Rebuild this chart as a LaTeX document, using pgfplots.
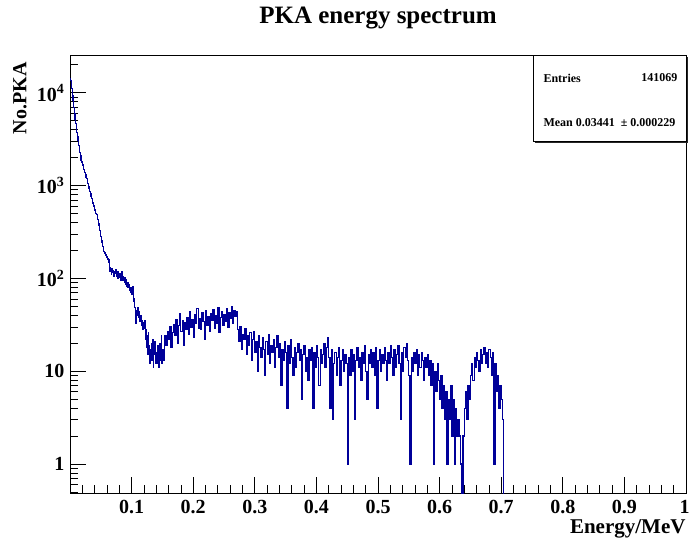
\documentclass[border=0pt]{standalone}
\usepackage{pgfplots}
\pgfplotsset{compat=1.18}
\usepackage{pgfplotstable}
\usepackage{fontspec}
\setmainfont{Liberation Serif}
\definecolor{rootblue}{RGB}{0,0,153}
% bins of 0.001 MeV from 0 to 0.150
\pgfplotstableread[row sep=\\]{
y\\
14100\\ 13500\\ 12800\\ 11100\\ 9400\\ 8200\\ 6900\\ 5900\\ 5200\\ 4700\\
4200\\ 3750\\ 3350\\ 3050\\ 2700\\ 2520\\ 2260\\ 2080\\ 1850\\ 1790\\
1690\\ 1640\\ 1500\\ 1460\\ 1370\\ 1300\\ 1220\\ 1180\\ 1090\\ 1060\\
970\\ 940\\ 860\\ 820\\ 770\\ 730\\ 680\\ 650\\ 610\\ 595\\
545\\ 530\\ 495\\ 485\\ 440\\ 430\\ 385\\ 370\\ 325\\ 305\\
285\\ 255\\ 245\\ 220\\ 212\\ 196\\ 188\\ 178\\ 182\\ 170\\
168\\ 162\\ 150\\ 158\\ 131\\ 118\\ 124\\ 109\\ 127\\ 115\\
121\\ 104\\ 118\\ 112\\ 125\\ 106\\ 116\\ 99\\ 119\\ 108\\
102\\ 113\\ 96\\ 109\\ 118\\ 94\\ 105\\ 99\\ 91\\ 103\\
86\\ 97\\ 82\\ 90\\ 79\\ 85\\ 74\\ 77\\ 70\\ 80\\
68\\ 72\\ 81\\ 56\\ 60\\ 49\\ 42\\ 33\\ 45\\ 40\\
48\\ 38\\ 44\\ 34\\ 36\\ 40\\ 31\\ 35\\ 28\\ 33\\
29\\ 35\\ 22\\ 28\\ 18\\ 24\\ 15\\ 26\\ 19\\ 14\\
12\\ 17\\ 20\\ 13\\ 22\\ 11\\ 18\\ 15\\ 21\\ 12\\
16\\ 12\\ 19\\ 14\\ 11\\ 20\\ 13\\ 17\\ 24\\ 12\\
17\\
}\pkalow
% bins of 0.002 MeV from 0.150 to 0.704
\pgfplotstableread[row sep=\\]{
y\\
17\\ 13\\ 24\\ 19\\ 27\\ 22\\ 30\\ 18\\ 26\\ 32\\
24\\ 36\\ 20\\ 31\\ 42\\ 27\\ 35\\ 19\\ 33\\ 28\\
38\\ 25\\ 44\\ 30\\ 36\\ 23\\ 41\\ 33\\ 47\\ 29\\
37\\ 28\\ 43\\ 34\\ 22\\ 45\\ 31\\ 39\\ 27\\ 42\\
35\\ 46\\ 29\\ 40\\ 33\\ 48\\ 26\\ 38\\ 44\\ 31\\
41\\ 34\\ 47\\ 30\\ 43\\ 37\\ 50\\ 33\\ 45\\ 39\\
44\\ 28\\ 21\\ 30\\ 17\\ 25\\ 22\\ 29\\ 15\\ 24\\
19\\ 26\\ 13\\ 22\\ 27\\ 16\\ 21\\ 10\\ 24\\ 18\\
14\\ 23\\ 17\\ 9\\ 21\\ 15\\ 25\\ 12\\ 19\\ 16\\
22\\ 11\\ 18\\ 24\\ 14\\ 20\\ 7\\ 17\\ 13\\ 21\\
16\\ 4\\ 19\\ 12\\ 22\\ 14\\ 9\\ 18\\ 11\\ 16\\
20\\ 13\\ 17\\ 5\\ 15\\ 19\\ 10\\ 14\\ 8\\ 17\\
13\\ 18\\ 4\\ 16\\ 11\\ 19\\ 14\\ 7\\ 17\\ 12\\
15\\ 20\\ 11\\ 18\\ 23\\ 14\\ 4\\ 17\\ 3\\ 12\\
16\\ 9\\ 14\\ 18\\ 7\\ 13\\ 17\\ 10\\ 15\\ 12\\
1\\ 14\\ 9\\ 17\\ 10\\ 15\\ 3\\ 13\\ 18\\ 11\\
14\\ 8\\ 16\\ 12\\ 19\\ 10\\ 5\\ 15\\ 12\\ 17\\
11\\ 16\\ 9\\ 18\\ 4\\ 13\\ 17\\ 10\\ 15\\ 12\\
18\\ 13\\ 8\\ 16\\ 12\\ 19\\ 14\\ 9\\ 17\\ 11\\
15\\ 19\\ 12\\ 3\\ 16\\ 10\\ 18\\ 14\\ 20\\ 13\\
9\\ 1\\ 14\\ 10\\ 16\\ 12\\ 17\\ 9\\ 15\\ 11\\
16\\ 13\\ 8\\ 14\\ 11\\ 15\\ 9\\ 13\\ 7\\ 12\\
1\\ 10\\ 6\\ 12\\ 8\\ 5\\ 9\\ 4\\ 7\\ 3\\
6\\ 1\\ 5\\ 3\\ 7\\ 2\\ 5\\ 1\\ 4\\ 2\\
3\\ 2\\ 1\\ 0.01\\ 2\\ 4\\ 6\\ 3\\ 7\\ 5\\
9\\ 12\\ 8\\ 14\\ 11\\ 16\\ 13\\ 10\\ 17\\ 12\\
15\\ 18\\ 12\\ 16\\ 11\\ 17\\ 14\\ 9\\ 16\\ 1\\
12\\ 6\\ 9\\ 4\\ 7\\ 5\\ 3\\ 0.01\\ 0.01\\
}\pkahigh
\begin{document}
\begin{tikzpicture}
\begin{axis}[
  scale only axis, width=616pt, height=438pt,
  xmin=0, xmax=1, ymode=log, ymin=0.487, ymax=25500,
  axis line style={line width=0.9pt},
  tick align=inside, xtick pos=bottom, ytick pos=left,
  xtick={0.1,0.2,0.3,0.4,0.5,0.6,0.7,0.8,0.9,1},
  xticklabels={0.1,0.2,0.3,0.4,0.5,0.6,0.7,0.8,0.9,\hspace*{-3pt}1},
  minor xtick={0.02,0.04,0.06,0.08,0.12,0.14,0.16,0.18,0.22,0.24,0.26,0.28,0.32,0.34,0.36,0.38,0.42,0.44,0.46,0.48,0.52,0.54,0.56,0.58,0.62,0.64,0.66,0.68,0.72,0.74,0.76,0.78,0.82,0.84,0.86,0.88,0.92,0.94,0.96,0.98},
  ytick={1,10,100,1000,10000},
  yticklabels={\textbf{1},\textbf{10},\textbf{10}\textsuperscript{\textbf{2}},\textbf{10}\textsuperscript{\textbf{3}},\textbf{10}\textsuperscript{\textbf{4}}},
  minor ytick={0.5,0.6,0.7,0.8,0.9,2,3,4,5,6,7,8,9,20,30,40,50,60,70,80,90,200,300,400,500,600,700,800,900,2000,3000,4000,5000,6000,7000,8000,9000,20000},
  major tick length=16pt, minor tick length=8pt,
  every tick/.style={black, line width=0.7pt},
  xticklabel style={font=\fontsize{20}{24}\selectfont\bfseries, anchor=north, yshift=-4pt},
  yticklabel style={font=\fontsize{20}{24}\selectfont\bfseries, anchor=east, xshift=-2pt},
]
\addplot[const plot mark left, color=rootblue, line width=1.2pt, mark=none]
  table[x expr=\coordindex*0.001, y=y] {\pkalow};
\addplot[const plot mark left, color=rootblue, line width=1.2pt, mark=none]
  table[x expr=0.15+\coordindex*0.002, y=y] {\pkahigh};
\end{axis}
\node[font=\fontsize{25}{30}\selectfont\bfseries] at ([yshift=37pt]current axis.north) {PKA energy spectrum};
\node[font=\fontsize{21}{25}\selectfont\bfseries, anchor=east] at ([shift={(3pt,-36pt)}]current axis.south east) {Energy/MeV};
\node[font=\fontsize{20}{24}\selectfont\bfseries, rotate=90, anchor=east] at ([shift={(-50pt,-4pt)}]current axis.north west) {No.PKA};
\fill[black!85] ([shift={(-151pt,-88pt)}]current axis.north east) rectangle ([shift={(2pt,-2pt)}]current axis.north east);
\draw[fill=white, line width=0.7pt] ([shift={(-153pt,-86pt)}]current axis.north east) rectangle (current axis.north east);
\node[font=\fontsize{12}{14}\selectfont\bfseries, anchor=west] at ([shift={(-146pt,-23pt)}]current axis.north east) {Entries};
\node[font=\fontsize{12}{14}\selectfont\bfseries, anchor=east] at ([shift={(-5pt,-23pt)}]current axis.north east) {141069};
\node[font=\fontsize{12}{14}\selectfont\bfseries, anchor=west] at ([shift={(-146pt,-68pt)}]current axis.north east) {Mean 0.03441 \ ± 0.000229};
\pgfresetboundingbox
\path ([shift={(-70pt,-46pt)}]current axis.south west) rectangle ([shift={(3pt,55pt)}]current axis.north east);
\end{tikzpicture}
\end{document}
